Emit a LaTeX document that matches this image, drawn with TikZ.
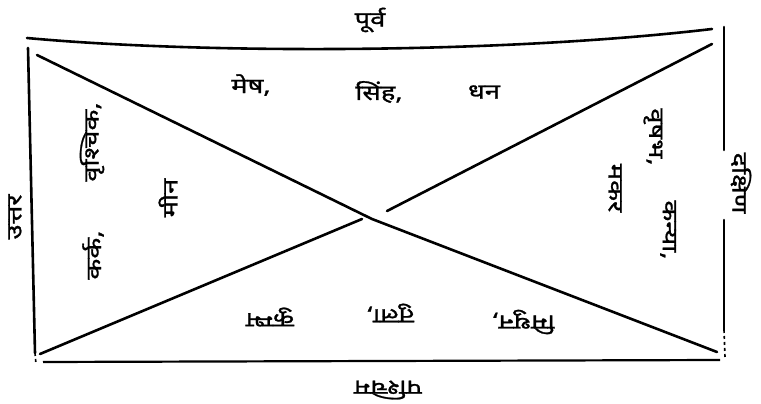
\documentclass[tikz,border=0pt]{standalone}
\usepackage{fontspec}
\newfontfamily\dev[Script=Devanagari, FakeStretch=1.3, FakeBold=1.2]{Noto Sans}
\begin{document}
\begin{tikzpicture}[x=1pt,y=-1pt,
  lbl/.style={font=\dev\fontsize{21}{24}\selectfont, inner sep=0pt},
  ln/.style={line width=2.6pt, line cap=round}]
\useasboundingbox (0,0) rectangle (761,404);
% corners and guide points
\coordinate (tl) at (27,38);
\coordinate (tr) at (712,29);
\coordinate (ltop) at (28,48);
\coordinate (lbot) at (35,353);
\coordinate (lend) at (36,364);
\coordinate (rtop) at (724,27);
\coordinate (rmid1) at (724,150);
\coordinate (rmid2) at (724,220);
\coordinate (rsolid) at (724,330);
\coordinate (rbot) at (725,357);
\coordinate (bl) at (43,362);
\coordinate (br) at (720,360);
\coordinate (d1a) at (37,55);
\coordinate (x) at (372,219);
\coordinate (d1b) at (717,352);
\coordinate (d2a) at (40,354);
\coordinate (g1) at (362,219);
\coordinate (g2) at (387,211);
\coordinate (d2b) at (712,44);
% frame
\draw[ln] (tl) .. controls (200,54) and (500,54) .. (tr);
\draw[ln] (ltop) -- (lbot);
\draw[line width=1.6pt, dashed] (lbot) -- (lend);
\draw[ln] (rtop) -- (rmid1);
\draw[ln] (rmid2) -- (rsolid);
\draw[line width=1.6pt, dashed] (rsolid) -- (rbot);
\draw[line width=2.2pt] (bl) -- (br);
% diagonals
\draw[ln] (d1a) -- (x) -- (d1b);
\draw[ln] (d2a) -- (g1);
\draw[ln] (g2) -- (d2b);
% direction labels
\node[lbl] (east) at (370,20) {पूर्व};
\node[lbl, rotate=90] (north) at (15,217) {उत्तर};
\node[lbl, rotate=-90] (south) at (741,183) {दक्षिण};
\node[lbl, rotate=180] (west) at (388,390) {पश्चिम};
% top triangle
\node[lbl] (mesh) at (251,85) {मेष,};
\node[lbl] (simha) at (379,92) {सिंह,};
\node[lbl] (dhanu) at (484,92) {धन};
% left triangle
\node[lbl, rotate=90] (vrish) at (92,142) {वृश्चिक,};
\node[lbl, rotate=90] (karka) at (93,255) {कर्क,};
\node[lbl, rotate=90] (meen) at (168,198) {मीन};
% right triangle
\node[lbl, rotate=-90] (vrishabh) at (653,137) {वृषभ,};
\node[lbl, rotate=-90] (makar) at (615,188) {मकर};
\node[lbl, rotate=-90] (kanya) at (668,230) {कन्या,};
% bottom triangle
\node[lbl, rotate=180] (kumbh) at (270,317) {कुम्भ};
\node[lbl, rotate=180] (tula) at (390,313) {तुला,};
\node[lbl, rotate=180] (mithun) at (523,322) {मिथुन,};
\end{tikzpicture}
\end{document}
